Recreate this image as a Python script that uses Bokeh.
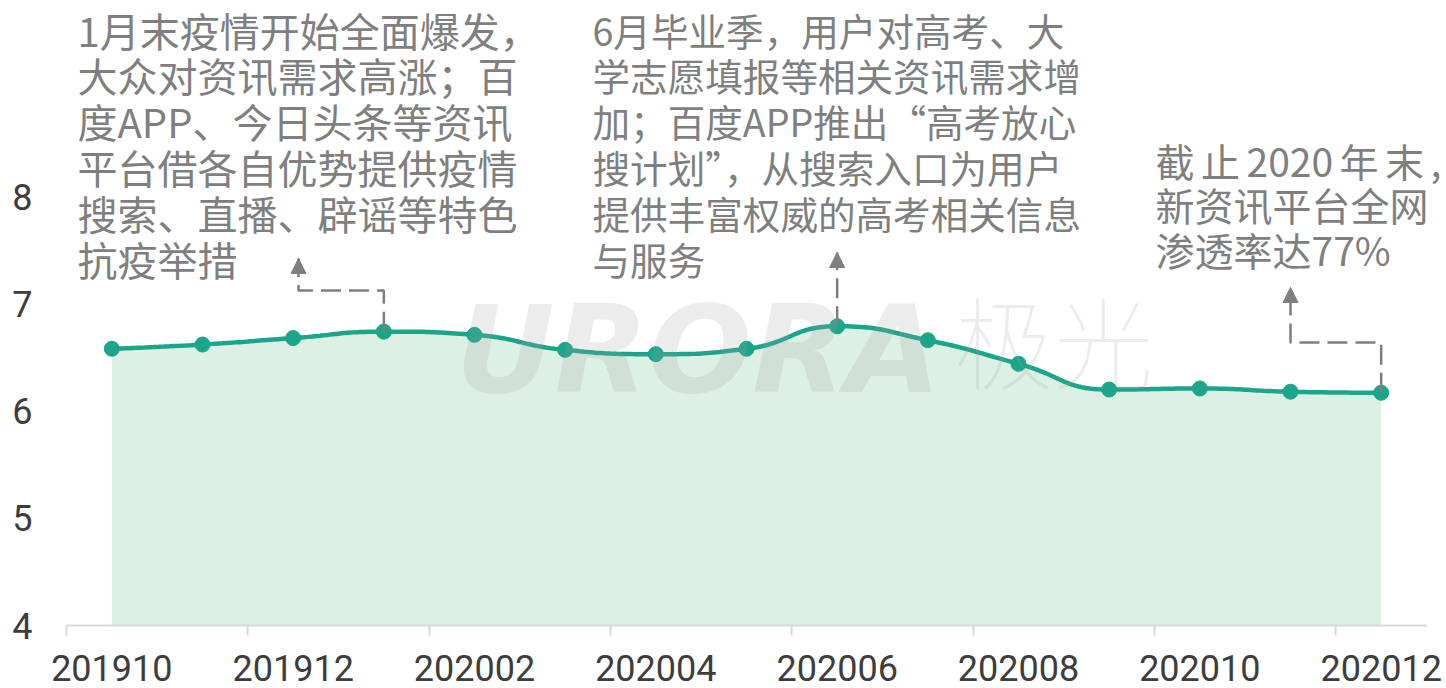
import math
from bokeh.plotting import figure
from bokeh.models import FixedTicker, Range1d, Arrow, NormalHead, Label
from bokeh.core.properties import value
from bokeh.embed import file_html
from bokeh.resources import INLINE

# ---------------- data ----------------
months = ["201910", "201911", "201912", "202001", "202002", "202003", "202004",
          "202005", "202006", "202007", "202008", "202009", "202010", "202011", "202012"]
values = [6.58, 6.62, 6.68, 6.74, 6.71, 6.57, 6.53, 6.58, 6.79, 6.66, 6.44, 6.20, 6.21, 6.18, 6.17]
y_ticks = [4, 5, 6, 7, 8]

note_left = ("1月末疫情开始全面爆发，\n大众对资讯需求高涨；百\n度APP、今日头条等资讯\n"
             "平台借各自优势提供疫情\n搜索、直播、辟谣等特色\n抗疫举措")
note_mid = ("6月毕业季，用户对高考、大\n学志愿填报等相关资讯需求增\n加；百度APP推出“高考放心\n"
            "搜计划”，从搜索入口为用户\n提供丰富权威的高考相关信息\n与服务")
note_right = "截\u2006止\u20062020\u2006年\u2006末\u2006,\n新资讯平台全网\n渗透率达77%"

# ---------------- layout ----------------
W, H = 1446, 688
B_LEFT, B_BOTTOM, B_TOP = 66, 63, 0
AXIS_RIGHT_PX = 1426
X_UNIT = (AXIS_RIGHT_PX - B_LEFT) / 15.0
X_START = -0.5
X_END = X_START + (W - B_LEFT) / X_UNIT
Y_UNIT = 107.25
Y_START = 4
Y_END = Y_START + (H - B_BOTTOM - B_TOP) / Y_UNIT

def dx(px):  # canvas pixel x -> data x
    return X_START + (px - B_LEFT) / X_UNIT

def dy(py):  # canvas pixel y -> data y
    return Y_START + (H - B_BOTTOM - py) / Y_UNIT

LINE = "#1ba58b"
FILL = "#dcf0e4"
GRAY = "#7f7f7f"
AX_TXT = "#3d3d3d"

# ---------------- smooth curve (echarts-like bezier smoothing) ----------------
def smooth_path(xs, ys, sx, sy, smooth=0.5, steps=24):
    P = [(x * sx, y * sy) for x, y in zip(xs, ys)]
    n = len(P)
    outx, outy = [P[0][0]], [P[0][1]]
    prevX, prevY = P[0]
    cpx0, cpy0 = P[0]
    for k in range(1, n):
        x, y = P[k]
        if k == n - 1:
            cpx1, cpy1 = x, y
            ncx, ncy = x, y
        else:
            nX, nY = P[k + 1]
            vx, vy = nX - prevX, nY - prevY
            lp = math.hypot(x - prevX, y - prevY)
            ln = math.hypot(nX - x, nY - y)
            r = ln / (ln + lp)
            ncx = x + vx * smooth * r
            ncy = y + vy * smooth * r
            ncx = max(min(ncx, max(nX, x)), min(nX, x))
            ncy = max(min(ncy, max(nY, y)), min(nY, y))
            vx, vy = ncx - x, ncy - y
            cpx1 = x - vx * lp / ln
            cpy1 = y - vy * lp / ln
            cpx1 = max(min(cpx1, max(prevX, x)), min(prevX, x))
            cpy1 = max(min(cpy1, max(prevY, y)), min(prevY, y))
            vx, vy = x - cpx1, y - cpy1
            ncx = x + vx * ln / lp
            ncy = y + vy * ln / lp
        for s in range(1, steps + 1):
            t = s / steps
            a, b, c, d = (1 - t) ** 3, 3 * (1 - t) ** 2 * t, 3 * (1 - t) * t ** 2, t ** 3
            outx.append(a * prevX + b * cpx0 + c * cpx1 + d * x)
            outy.append(a * prevY + b * cpy0 + c * cpy1 + d * y)
        cpx0, cpy0 = ncx, ncy
        prevX, prevY = x, y
    return [v / sx for v in outx], [v / sy for v in outy]

xs = list(range(len(months)))
cx, cy = smooth_path(xs, values, X_UNIT, Y_UNIT)

# ---------------- figure ----------------
p = figure(width=W, height=H, output_backend="svg", toolbar_location=None,
           x_range=Range1d(X_START, X_END), y_range=Range1d(Y_START, Y_END),
           min_border_left=B_LEFT, min_border_right=0,
           min_border_bottom=B_BOTTOM, min_border_top=B_TOP)
p.outline_line_color = None
p.grid.visible = False
p.background_fill_color = "white"
p.border_fill_color = "white"

p.varea(x=cx, y1=[Y_START] * len(cx), y2=cy, fill_color=FILL)
p.line(cx, cy, line_color=LINE, line_width=4.5)
p.scatter(xs, values, size=15, fill_color=LINE, line_color=LINE)

# x axis
xa = p.xaxis[0]
xa.bounds = (X_START, len(months) - 0.5)
xa.ticker = FixedTicker(ticks=list(range(0, len(months), 2)),
                        minor_ticks=[i - 0.5 for i in range(0, len(months), 2)])
xa.major_label_overrides = {i: months[i] for i in range(0, len(months), 2)}
xa.axis_line_color = "#d9d9d9"
xa.axis_line_width = 2
xa.major_tick_line_color = None
xa.major_tick_out = 0
xa.major_tick_in = 0
xa.minor_tick_line_color = "#d9d9d9"
xa.minor_tick_line_width = 2
xa.minor_tick_out = 10
xa.minor_tick_in = 0
xa.major_label_standoff = 19
xa.major_label_text_font = "Roboto"
xa.major_label_text_font_size = "36px"
xa.major_label_text_color = AX_TXT

# y axis
ya = p.yaxis[0]
ya.ticker = FixedTicker(ticks=y_ticks)
ya.axis_line_color = None
ya.major_tick_line_color = None
ya.minor_tick_line_color = None
ya.major_tick_out = 0
ya.major_label_standoff = 34
ya.major_label_text_font = "Roboto"
ya.major_label_text_font_size = "36px"
ya.major_label_text_color = AX_TXT

# ---------------- watermark ----------------
p.text(x=[dx(455)], y=[dy(349)], text=["URORA"], text_font=value("DejaVu Sans"),
       text_font_style="bold italic", text_font_size="122px", text_color="#9e9e9e",
       text_alpha=0.2, text_baseline="alphabetic", text_align="left")
p.text(x=[dx(953)], y=[dy(338)], text=["极光"], text_font=value("Noto Sans CJK SC"),
       text_font_size="100px", text_color="#9e9e9e",
       text_alpha=0.2, text_baseline="alphabetic", text_align="left")

# ---------------- annotations ----------------
def note(text, px, py, size, lh):
    p.add_layout(Label(x=dx(px), y=dy(py), text=text, text_font="Noto Sans CJK SC",
                       text_font_size=size, text_color=GRAY, text_align="left",
                       text_baseline="top", text_line_height=lh))

note(note_left, 77, 0, "40px", 0.79)
note(note_mid, 592, 1, "37.6px", 0.835)
note(note_right, 1155, 131, "39px", 0.8)

DASH = "20 8"

def guide(path_x, path_y):
    p.line(path_x, path_y, line_color=GRAY, line_width=2.5, line_dash=DASH)
    p.add_layout(Arrow(end=NormalHead(size=15, fill_color=GRAY, line_color=GRAY),
                       x_start=path_x[-1], y_start=path_y[-1] - 0.05,
                       x_end=path_x[-1], y_end=path_y[-1], line_alpha=0))

# arrow from 202001 peak
guide([3, 3, dx(298), dx(298)], [values[3], dy(290), dy(290), dy(258)])
# arrow from 202006 peak
guide([8, 8], [values[8], dy(252)])
# arrow from 202012 end
guide([14, 14, 13, 13], [values[14], dy(342), dy(342), dy(287)])

open("out.html", "w").write(file_html(p, INLINE))
